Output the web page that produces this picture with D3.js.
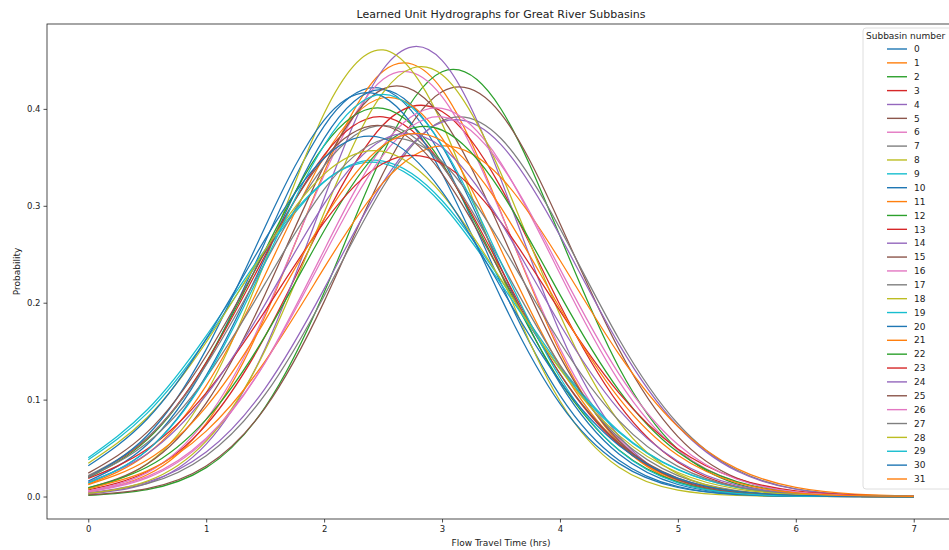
<!DOCTYPE html>
<html>
<head>
<meta charset="utf-8">
<script src="https://cdn.jsdelivr.net/npm/d3@7"></script>
<style>
  body { margin: 0; background: #fff; }
  text { font-family: "DejaVu Sans", sans-serif; fill: #222; }
</style>
</head>
<body>
<div id="graph"></div>
<script>
const width = 949,
  height = 550;

const times = [0, 0.5, 1, 1.5, 2, 2.5, 3, 3.5, 4, 4.5, 5, 5.5, 6, 6.5, 7];
const xTicks = [0, 1, 2, 3, 4, 5, 6, 7];
const yTicks = [0, 0.1, 0.2, 0.3, 0.4];
const subbasins = ["0","1","2","3","4","5","6","7","8","9","10","11","12","13","14","15",
  "16","17","18","19","20","21","22","23","24","25","26","27","28","29","30","31"];

// probability per subbasin, one row per subbasin, one value per entry of times
const probs = [
  [0.0159,0.0537,0.1366,0.2628,0.3823,0.4205,0.3496,0.2197,0.1044,0.0375,0.0102,0.0021,0.0003,0,0],
  [0.0048,0.0224,0.0756,0.1862,0.3347,0.4389,0.4200,0.2932,0.1493,0.0555,0.0151,0.0030,0.0004,0.0001,0],
  [0.0012,0.0071,0.0298,0.0923,0.2105,0.3540,0.4383,0.3999,0.2688,0.1332,0.0486,0.0131,0.0026,0.0004,0],
  [0.0068,0.0256,0.0739,0.1654,0.2862,0.3834,0.3973,0.3187,0.1978,0.0950,0.0353,0.0102,0.0023,0.0004,0.0001],
  [0.0024,0.0136,0.0540,0.1528,0.3076,0.4409,0.4500,0.3270,0.1692,0.0623,0.0164,0.0031,0.0004,0,0],
  [0.0016,0.0082,0.0315,0.0915,0.2011,0.3336,0.4177,0.3949,0.2818,0.1519,0.0618,0.0190,0.0044,0.0008,0.0001],
  [0.0057,0.0247,0.0795,0.1890,0.3318,0.4305,0.4126,0.2922,0.1529,0.0591,0.0169,0.0036,0.0006,0.0001,0],
  [0.0033,0.0132,0.0421,0.1053,0.2070,0.3197,0.3878,0.3695,0.2766,0.1626,0.0751,0.0273,0.0078,0.0017,0.0003],
  [0.0076,0.0337,0.1068,0.2428,0.3953,0.4609,0.3848,0.2302,0.0986,0.0302,0.0066,0.0011,0.0001,0,0],
  [0.0379,0.0860,0.1618,0.2519,0.3246,0.3462,0.3055,0.2232,0.1350,0.0675,0.0280,0.0096,0.0027,0.0006,0.0001],
  [0.0139,0.0478,0.1248,0.2467,0.3696,0.4199,0.3615,0.2360,0.1167,0.0438,0.0124,0.0027,0.0004,0.0001,0],
  [0.0129,0.0438,0.1144,0.2289,0.3506,0.4115,0.3698,0.2546,0.1343,0.0542,0.0168,0.0040,0.0007,0.0001,0],
  [0.0193,0.0587,0.1386,0.2542,0.3620,0.4005,0.3442,0.2298,0.1191,0.0480,0.0150,0.0037,0.0007,0.0001,0],
  [0.0206,0.0602,0.1381,0.2489,0.3523,0.3918,0.3423,0.2349,0.1266,0.0536,0.0178,0.0047,0.0010,0.0002,0],
  [0.0038,0.0149,0.0459,0.1117,0.2143,0.3241,0.3864,0.3632,0.2692,0.1573,0.0725,0.0263,0.0075,0.0017,0.0003],
  [0.0088,0.0335,0.0963,0.2088,0.3412,0.4206,0.3908,0.2738,0.1446,0.0576,0.0173,0.0039,0.0007,0.0001,0],
  [0.0049,0.0193,0.0587,0.1386,0.2542,0.3620,0.4005,0.3442,0.2298,0.1191,0.0480,0.0150,0.0037,0.0007,0.0001],
  [0.0215,0.0606,0.1358,0.2416,0.3413,0.3830,0.3413,0.2416,0.1358,0.0606,0.0215,0.0061,0.0014,0.0002,0],
  [0.0032,0.0158,0.0571,0.1509,0.2928,0.4167,0.4352,0.3334,0.1875,0.0773,0.0234,0.0052,0.0008,0.0001,0],
  [0.0400,0.0895,0.1658,0.2549,0.3250,0.3437,0.3016,0.2195,0.1324,0.0663,0.0276,0.0095,0.0027,0.0006,0.0001],
  [0.0199,0.0630,0.1518,0.2784,0.3885,0.4126,0.3334,0.2050,0.0959,0.0342,0.0093,0.0019,0.0003,0,0],
  [0.0085,0.0265,0.0675,0.1398,0.2359,0.3239,0.3619,0.3292,0.2438,0.1469,0.0721,0.0288,0.0094,0.0025,0.0005],
  [0.0092,0.0304,0.0796,0.1657,0.2743,0.3611,0.3781,0.3147,0.2083,0.1096,0.0459,0.0153,0.0040,0.0009,0.0001],
  [0.0186,0.0490,0.1069,0.1916,0.2828,0.3436,0.3436,0.2828,0.1916,0.1069,0.0490,0.0186,0.0058,0.0015,0.0003],
  [0.0150,0.0442,0.1046,0.1985,0.3020,0.3684,0.3604,0.2826,0.1778,0.0896,0.0364,0.0118,0.0031,0.0006,0.0001],
  [0.0241,0.0664,0.1453,0.2527,0.3489,0.3826,0.3332,0.2304,0.1266,0.0552,0.0191,0.0053,0.0012,0.0002,0],
  [0.0055,0.0206,0.0602,0.1381,0.2489,0.3523,0.3918,0.3423,0.2349,0.1266,0.0536,0.0178,0.0047,0.0010,0.0002],
  [0.0202,0.0555,0.1230,0.2199,0.3169,0.3684,0.3454,0.2611,0.1592,0.0783,0.0311,0.0099,0.0026,0.0005,0.0001],
  [0.0344,0.0816,0.1592,0.2544,0.3327,0.3561,0.3120,0.2238,0.1314,0.0631,0.0248,0.0080,0.0021,0.0005,0.0001],
  [0.0141,0.0476,0.1228,0.2416,0.3625,0.4150,0.3625,0.2416,0.1228,0.0476,0.0141,0.0032,0.0005,0.0001,0],
  [0.0317,0.0800,0.1626,0.2656,0.3494,0.3697,0.3147,0.2157,0.1188,0.0527,0.0188,0.0052,0.0013,0.0002,0],
  [0.0123,0.0377,0.0925,0.1818,0.2866,0.3622,0.3671,0.2982,0.1943,0.1015,0.0425,0.0143,0.0038,0.0008,0.0001]
];

const margin = { left: 47, right: 955, top: 24, bottom: 519 };

const svg = d3.select("#graph").append("svg")
  .attr("width", width)
  .attr("height", height);

const x = d3.scaleLinear().domain([-0.35, 7.35]).range([margin.left, margin.right]);
const y = d3.scaleLinear().domain([-0.0232, 0.4876]).range([margin.bottom, margin.top]);

const color = d3.scaleOrdinal(d3.schemeCategory10).domain(subbasins);

const line = d3.line()
  .x((d, i) => x(times[i]))
  .y(d => y(d))
  .curve(d3.curveNatural);

// curves
svg.append("g")
  .selectAll("path")
  .data(probs)
  .join("path")
  .attr("fill", "none")
  .attr("stroke", (d, i) => color(subbasins[i]))
  .attr("stroke-width", 1.25)
  .attr("d", line);

// axes
const xAxis = svg.append("g")
  .attr("transform", `translate(0,${margin.bottom})`)
  .call(d3.axisBottom(x).tickValues(xTicks).tickFormat(d3.format("d")).tickSize(3.5).tickPadding(3));
const yAxis = svg.append("g")
  .attr("transform", `translate(${margin.left},0)`)
  .call(d3.axisLeft(y).tickValues(yTicks).tickFormat(d3.format(".1f")).tickSize(3.5).tickPadding(3));

[xAxis, yAxis].forEach(a => {
  a.select(".domain").remove();
  a.selectAll("text").style("font-family", "DejaVu Sans").style("font-size", "8.5px").attr("fill", "#222");
  a.selectAll("line").attr("stroke", "#222").attr("stroke-width", 0.8);
});

// frame
svg.append("rect")
  .attr("x", margin.left)
  .attr("y", margin.top)
  .attr("width", margin.right - margin.left)
  .attr("height", margin.bottom - margin.top)
  .attr("fill", "none")
  .attr("stroke", "#222")
  .attr("stroke-width", 0.8);

// titles
svg.append("text")
  .attr("x", (margin.left + margin.right) / 2)
  .attr("y", 18)
  .attr("text-anchor", "middle")
  .style("font-size", "11px")
  .text("Learned Unit Hydrographs for Great River Subbasins");

svg.append("text")
  .attr("x", (margin.left + margin.right) / 2)
  .attr("y", 546)
  .attr("text-anchor", "middle")
  .style("font-size", "9px")
  .text("Flow Travel Time (hrs)");

svg.append("text")
  .attr("transform", `translate(20,${(margin.top + margin.bottom) / 2}) rotate(-90)`)
  .attr("text-anchor", "middle")
  .style("font-size", "9px")
  .text("Probability");

// legend
const legend = svg.append("g");
legend.append("rect")
  .attr("x", 863)
  .attr("y", 28)
  .attr("width", 110)
  .attr("height", 461)
  .attr("rx", 3)
  .attr("fill", "#fff")
  .attr("fill-opacity", 0.8)
  .attr("stroke", "#d6d6d6")
  .attr("stroke-width", 0.8);

legend.append("text")
  .attr("x", 866)
  .attr("y", 39)
  .style("font-size", "9px")
  .text("Subbasin number");

const rowY = d3.scaleLinear().domain([0, 31]).range([49, 479]);

const rows = legend.selectAll("g.row")
  .data(subbasins)
  .join("g")
  .attr("class", "row")
  .attr("transform", (d, i) => `translate(0,${rowY(i)})`);

rows.append("line")
  .attr("x1", 887)
  .attr("x2", 907)
  .attr("stroke", d => color(d))
  .attr("stroke-width", 1.4);

rows.append("text")
  .attr("x", 914)
  .attr("y", 3.2)
  .style("font-size", "9px")
  .text(d => d);
</script>
</body>
</html>
